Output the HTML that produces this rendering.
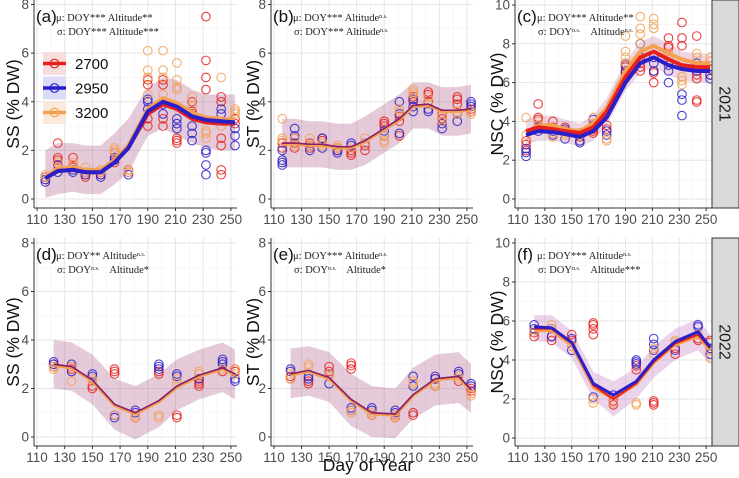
<!DOCTYPE html>
<html><head><meta charset="utf-8"><style>
html,body{margin:0;padding:0;background:#fff;}
svg{display:block;font-family:"Liberation Sans",sans-serif;}
.tk{font-size:13.5px;fill:#4d4d4d;}
.ser{font-family:"Liberation Serif",serif;font-size:10.5px;fill:#222;}
</style></head><body>
<svg id="chart" width="739" height="478" xmlns="http://www.w3.org/2000/svg"></svg>
<script>
// ---------- data ----------
const days2021 = [116,125,136,145,156,166,176,190,201,211,222,232,243,253];
const days2022 = [122,135,150,166,181,198,211,227,244,253];
const altitudes = ["2700","2950","3200"];
const xTicks = [110,130,150,170,190,210,230,250];
const ssTicks = [0,2,4,6,8];
const nscTicks = [0,2,4,6,8,10];

// panel a SS 2021
const aLine2700 = [0.85,1.15,1.2,1.1,1.1,1.5,2.1,3.5,3.9,3.7,3.3,3.15,3.1,3.1];
const aLine2950 = [0.85,1.15,1.2,1.1,1.1,1.5,2.1,3.6,4.0,3.8,3.4,3.25,3.2,3.15];
const aLine3200 = [0.9,1.25,1.3,1.2,1.2,1.6,2.2,3.7,4.15,3.95,3.55,3.35,3.3,3.25];
const aLow = [0.05,0.2,0.3,0.2,0.2,0.6,1.1,2.6,2.9,2.6,2.3,2.1,2.0,2.0];
const aHigh = [2.0,2.3,2.3,2.2,2.2,2.7,3.3,4.6,5.0,4.9,4.5,4.3,4.3,4.3];
const aPts2700 = [[0.8,0.9],[2.3,1.7,1.6,1.4],[1.7,1.4,1.3],[0.9,1.0],[1.0,1.1],[1.5,1.9],[1.2,1.1],[3.0,3.3,4.7,4.9],[3.0,3.3,4.7,4.9],[2.3,2.4,2.5],[3.6,4.0,3.5],[7.5,5.7,5.0,4.5],[1.0,1.2,2.2,2.5,4.2,4.0],[3.1,3.3]];
const aPts2950 = [[0.7,0.8,0.9],[1.1,1.4],[1.1,1.2],[1.0,1.1],[0.9,1.0],[1.6,1.7],[1.0],[3.7,4.0,4.1],[3.5,3.9],[2.9,3.1,3.3],[2.4,2.7,3.0],[1.0,1.4,1.9,2.0],[3.5,3.7],[2.2,2.6,2.9]];
const aPts3200 = [[0.9,1.0],[1.5,1.3],[1.4,1.5],[1.3,1.1],[1.2,1.1],[2.1,2.0,1.9],[1.2,1.1],[6.1,5.3,5.0,4.3],[6.1,5.3,5.0,4.3],[5.6,4.9,4.6,4.5],[4.2,3.8],[2.5,2.7,2.8],[5.0,3.0],[3.7,3.6,3.5]];

// panel b ST 2021
const bLine2700 = [2.3,2.3,2.25,2.25,2.15,2.15,2.4,2.9,3.3,3.85,3.9,3.65,3.65,3.7];
const bLine2950 = [2.3,2.3,2.25,2.25,2.15,2.15,2.4,2.9,3.3,3.85,3.9,3.65,3.65,3.7];
const bLine3200 = [2.25,2.25,2.2,2.2,2.1,2.1,2.35,2.85,3.25,3.8,3.85,3.6,3.6,3.65];
const bLow = [1.3,1.3,1.3,1.3,1.2,1.2,1.4,1.9,2.3,2.9,2.9,2.6,2.6,2.7];
const bHigh = [3.3,3.3,3.2,3.2,3.1,3.1,3.4,3.9,4.3,4.8,4.8,4.6,4.6,4.7];
const bPts2700 = [[2.1,2.3],[2.1,2.3,2.5],[2.1,2.3],[2.4,2.5],[2.0,2.1],[1.8,1.9,2.0],[2.0,2.2],[3.0,3.2,3.1],[2.6,3.4,3.2],[4.0,4.2],[4.4,4.3,4.0],[3.3,3.5],[4.2,4.1,3.9],[3.6,3.7]];
const bPts2950 = [[1.4,1.5,1.6,2.0],[2.9,2.6],[2.0,2.2],[2.1,2.5],[1.9,2.0],[2.2,2.3],[2.3],[2.6,2.8],[2.7,4.0,3.5],[3.6,3.8,4.1],[3.6,3.7],[2.9,3.1],[3.2,3.5],[4.0,3.9,3.8]];
const bPts3200 = [[3.3,2.5,2.4],[2.2,2.5],[2.5,2.2],[2.2,2.3],[2.1,2.2],[2.1],[2.5,2.3],[2.3,2.4,2.6],[3.6,3.7],[4.4,4.3,4.5],[4.2,3.9],[3.2,3.4],[3.6,3.5],[3.5,3.6]];

// panel c NSC 2021
const cLine2700 = [3.5,3.7,3.6,3.5,3.4,3.7,4.5,6.3,7.3,7.6,7.2,6.9,6.8,6.8];
const cLine2950 = [3.3,3.5,3.45,3.35,3.2,3.5,4.2,6.0,7.0,7.3,6.9,6.7,6.6,6.6];
const cLine3200 = [3.4,3.8,3.8,3.6,3.5,3.9,4.7,6.6,7.6,7.9,7.5,7.2,7.0,7.0];
const cLow = [2.8,3.0,3.0,2.9,2.7,3.0,3.8,5.6,6.5,6.8,6.4,6.1,6.0,6.0];
const cHigh = [4.1,4.3,4.3,4.1,3.9,4.3,5.2,7.1,8.1,8.4,8.0,7.6,7.5,7.5];
const cPts2700 = [[2.5,2.8,3.0],[4.9,4.2,4.1],[4.0,3.7],[3.7,3.5],[3.4,3.2],[3.4,3.5,3.6],[3.8,3.6],[6.5,6.8,7.0],[6.6,7.0,6.8],[6.0,6.5,6.6],[8.3,7.9,7.8],[9.1,8.3,7.9],[5.0,5.1,6.2,6.4,8.4],[6.4,6.7]];
const cPts2950 = [[2.2,2.4,2.6],[3.5,3.7],[3.3,3.5],[3.1,3.6],[2.9,3.0],[3.8,4.1],[3.3,3.5],[6.3,6.6,6.9],[8.0,7.3],[6.6,7.0,7.3],[6.0,6.6,6.9],[4.3,5.1,5.4],[6.6,7.0],[6.2,6.4]];
const cPts3200 = [[4.2,3.3],[3.8,4.0],[3.2,3.4],[3.3,3.4],[3.3,3.4],[4.2,3.9],[3.1,3.0],[8.4,7.6,7.3,7.0],[9.4,8.8,8.5,8.0],[9.3,9.0,8.8],[7.5,7.2],[6.3,6.1,5.9],[7.5,7.3],[7.3,7.1]];

// panel d SS 2022
const dLine2700 = [3.0,2.9,2.35,1.35,1.0,1.5,2.1,2.55,2.85,2.6];
const dLine2950 = [3.0,2.9,2.35,1.35,1.0,1.5,2.1,2.55,2.85,2.6];
const dLine3200 = [2.95,2.85,2.3,1.3,0.95,1.45,2.05,2.5,2.8,2.55];
const dLow = [2.0,1.9,1.35,0.3,-0.1,0.4,1.1,1.55,1.85,1.55];
const dHigh = [4.0,3.9,3.4,2.4,2.1,2.6,3.2,3.6,3.9,3.6];
const dPts2700 = [[2.9,3.0],[2.8,2.9],[2.0,2.1],[2.8,2.7,2.6],[0.8],[2.6,2.7],[0.8,0.9],[2.1,2.2,2.3],[2.7],[2.7,2.8]];
const dPts2950 = [[3.1,3.0],[3.0,2.7],[2.6,2.5],[0.8,0.9],[1.0,1.1],[2.8,2.9,3.0],[2.5,2.6],[2.4],[3.0,3.1,3.2],[2.3,2.4]];
const dPts3200 = [[2.8,2.9],[2.3,2.9],[2.4,2.3],[0.9],[0.8,0.9],[0.9,0.8],[2.2,2.4],[2.6,2.7],[2.8],[2.6,2.8]];

// panel e ST 2022
const eLine2700 = [2.6,2.75,2.45,1.55,1.0,0.95,1.75,2.4,2.5,1.95];
const eLine2950 = [2.6,2.75,2.45,1.55,1.0,0.95,1.75,2.4,2.5,1.95];
const eLine3200 = [2.55,2.7,2.4,1.5,0.95,0.9,1.7,2.35,2.45,1.9];
const eLow = [1.6,1.7,1.45,0.45,0.0,-0.05,0.75,1.3,1.4,1.0];
const eHigh = [3.65,3.75,3.5,2.6,2.1,2.0,2.85,3.4,3.5,3.0];
const ePts2700 = [[2.4,2.5],[2.2,2.3],[2.7,2.9],[2.8,2.95,3.05],[0.9],[0.9,0.8],[0.9,1.0],[2.1,2.4],[2.3],[1.9,2.0]];
const ePts2950 = [[2.7,2.8],[2.4,2.5],[2.2,2.6],[1.2,1.1],[1.2,1.1],[1.1,1.0],[2.1,2.5],[2.4,2.5],[2.7,2.6],[2.2,2.1]];
const ePts3200 = [[2.4,2.6],[2.9,3.0],[2.5,2.6],[1.0,1.1],[0.9,1.0],[0.8,0.9],[2.3,2.2],[2.1,2.2],[2.4,2.5],[1.7,1.8]];

// panel f NSC 2022
const fLine2700 = [5.6,5.6,4.85,2.7,2.0,2.8,3.9,4.85,5.3,4.6];
const fLine2950 = [5.7,5.65,4.9,2.8,2.2,2.9,4.0,4.95,5.45,4.65];
const fLine3200 = [5.5,5.5,4.75,2.6,2.0,2.75,3.85,4.8,5.2,4.5];
const fLow = [5.0,4.9,4.1,2.0,1.1,2.0,3.1,4.0,4.5,3.8];
const fHigh = [6.3,6.3,5.5,3.4,2.9,3.6,4.7,5.6,6.1,5.3];
const fPts2700 = [[5.2,5.4],[5.0,5.2],[5.3,5.0],[5.3,5.6,5.8,5.9],[1.7,1.9],[3.5,3.7],[1.7,1.8,1.9],[4.3,4.6],[5.0,5.1],[4.9,5.0]];
const fPts2950 = [[5.8,5.6],[5.2,5.6],[4.5,5.1],[2.1],[2.2],[3.9,4.0,3.8],[4.5,5.1,4.8],[4.5],[5.7,5.8],[4.3,4.6]];
const fPts3200 = [[5.5],[5.8,5.6],[4.7],[1.8,2.0],[1.8],[1.8,1.7],[4.3,4.6],[5.0,4.9],[5.3],[4.1,4.5]];

// ---------- drawing ----------
const NS="http://www.w3.org/2000/svg";
const svg=document.getElementById('chart');
const COL={"2700":"#e8201c","2950":"#2a1fc9","3200":"#f4a052"};
function mk(tag,attrs,parent){const e=document.createElementNS(NS,tag);for(const k in attrs)e.setAttribute(k,attrs[k]);(parent||svg).appendChild(e);return e;}

const panels=[
 {id:"a",L:34,W:203,T:0,B:208,ymax:8,y0:199,yTop:4.5,ticks:ssTicks,days:days2021,lines:[aLine2700,aLine2950,aLine3200],low:aLow,high:aHigh,pts:[aPts2700,aPts2950,aPts3200],lw:[4,4,4],band:"rgba(160,70,120,0.28)",title:"SS (% DW)",tx:13,mu:["DOY","***","Altitude","**"],sg:["DOY","***","Altitude","***"]},
 {id:"b",L:271,W:202,T:0,B:208,ymax:8,y0:199,yTop:4.5,ticks:ssTicks,days:days2021,lines:[bLine2700,bLine2950,bLine3200],low:bLow,high:bHigh,pts:[bPts2700,bPts2950,bPts3200],lw:[1.5,1.5,3],band:"rgba(160,70,120,0.28)",title:"ST (% DW)",tx:253,mu:["DOY","***","Altitude","ns"],sg:["DOY","***","Altitude","ns"]},
 {id:"c",L:515,W:197,T:0,B:208,ymax:10,y0:199,yTop:5,ticks:nscTicks,days:days2021,lines:[cLine2700,cLine2950,cLine3200],low:cLow,high:cHigh,pts:[cPts2700,cPts2950,cPts3200],lw:[4,4,4],band:"rgba(200,120,170,0.3)",title:"NSC (% DW)",tx:497,mu:["DOY","***","Altitude","**"],sg:["DOY","ns","Altitude","ns"],strip:"2021"},
 {id:"d",L:34,W:203,T:238,B:446,ymax:8,y0:437,yTop:243,ticks:ssTicks,days:days2022,lines:[dLine2700,dLine2950,dLine3200],low:dLow,high:dHigh,pts:[dPts2700,dPts2950,dPts3200],lw:[1.5,1.5,3],band:"rgba(160,70,120,0.28)",title:"SS (% DW)",tx:13,mu:["DOY","**","Altitude","ns"],sg:["DOY","ns","Altitude","*"]},
 {id:"e",L:271,W:202,T:238,B:446,ymax:8,y0:437,yTop:243,ticks:ssTicks,days:days2022,lines:[eLine2700,eLine2950,eLine3200],low:eLow,high:eHigh,pts:[ePts2700,ePts2950,ePts3200],lw:[1.5,1.5,3],band:"rgba(160,70,120,0.28)",title:"ST (% DW)",tx:253,mu:["DOY","***","Altitude","ns"],sg:["DOY","ns","Altitude","*"]},
 {id:"f",L:515,W:197,T:238,B:446,ymax:10,y0:438,yTop:243,ticks:nscTicks,days:days2022,lines:[fLine2700,fLine2950,fLine3200],low:fLow,high:fHigh,pts:[fPts2700,fPts2950,fPts3200],lw:[2,3,3],band:"rgba(190,110,190,0.3)",title:"NSC (% DW)",tx:497,mu:["DOY","***","Altitude","ns"],sg:["DOY","ns","Altitude","***"],strip:"2022"}
];

function annot(parent,x,y,sym,parts,name){
 const t=mk('text',{x:x,y:y,class:"ser"},parent);
 
 
 const add=(txt,small,dx)=>{const s=mk('tspan',small?{"font-size":"6","baseline-shift":"super"}:{},t);if(dx)s.setAttribute('dx',dx);s.textContent=txt;};
 add(sym+": "+parts[0]);
 if(parts[1]==="ns"){add("n.s.",true);add(" ",false,"8");} else add(parts[1]+" ");
 add(parts[2]);
 if(parts[3]==="ns")add("n.s.",true); else add(parts[3]);
}

panels.forEach(p=>{
 const g=mk('g',{});
 
 
 const x0=p.L+3, xs=(p.W*0.955)/140;
 const X=v=>x0+(v-110)*xs;
 const Y=v=>p.y0-(v/p.ymax)*(p.y0-p.yTop);
 const R=p.L+p.W;
 for(let v=120;v<=250;v+=20){if(X(v)<R)mk('line',{x1:X(v),x2:X(v),y1:p.T,y2:p.B,stroke:"#f2f2f2","stroke-width":0.6},g);}
 for(let i=0;i<p.ticks.length-1;i++){const v=(p.ticks[i]+p.ticks[i+1])/2;mk('line',{x1:p.L,x2:R,y1:Y(v),y2:Y(v),stroke:"#f2f2f2","stroke-width":0.6},g);}
 xTicks.forEach(v=>mk('line',{x1:X(v),x2:X(v),y1:p.T,y2:p.B,stroke:"#e6e6e6","stroke-width":1},g));
 p.ticks.forEach(v=>mk('line',{x1:p.L,x2:R,y1:Y(v),y2:Y(v),stroke:"#e6e6e6","stroke-width":1},g));
 let d="";p.days.forEach((dd,i)=>d+=(i?"L":"M")+X(dd)+","+Y(p.high[i]));
 for(let i=p.days.length-1;i>=0;i--)d+="L"+X(p.days[i])+","+Y(p.low[i]);
 const band=mk('path',{d:d+"Z",fill:p.band},g);
 
 
 p.pts.forEach((arr,k)=>{arr.forEach((vals,i)=>{vals.forEach(v=>{
   const c=mk('circle',{cx:X(p.days[i]),cy:Y(v),r:4.3,fill:"none",stroke:COL[altitudes[k]],"stroke-width":1.1,"stroke-opacity":0.85},g);
   
   
 });});});
 const order=[2,0,1];
 order.forEach(k=>{
   const arr=p.lines[k];let s="";
   p.days.forEach((dd,i)=>s+=(i?"L":"M")+X(dd)+","+Y(arr[i]));
   const col=(p.lw[k]<2)?"#8a1f6a":COL[altitudes[k]];
   const l=mk('path',{d:s,fill:"none",stroke:col,"stroke-width":p.lw[k],"stroke-linejoin":"round"},g);
   
   
 });
 mk('line',{x1:p.L,x2:p.L,y1:p.T,y2:p.B,stroke:"#333","stroke-width":1},g);
 mk('line',{x1:p.L,x2:R,y1:p.B,y2:p.B,stroke:"#333","stroke-width":1},g);
 if(p.strip) mk('line',{x1:R,x2:R,y1:p.T,y2:p.B,stroke:"#333","stroke-width":1},g);
 xTicks.forEach(v=>{mk('line',{x1:X(v),x2:X(v),y1:p.B,y2:p.B+3,stroke:"#333"},g);
   const t=mk('text',{x:X(v),y:p.B+16,"text-anchor":"middle",class:"tk"},g);t.textContent=v;
   });
 p.ticks.forEach(v=>{mk('line',{x1:p.L-3,x2:p.L,y1:Y(v),y2:Y(v),stroke:"#333"},g);
   const t=mk('text',{x:p.L-5,y:Y(v)+4.5,"text-anchor":"end",class:"tk"},g);t.textContent=v;
   });
 const yt=mk('text',{x:p.tx,y:(p.T+p.B)/2,"text-anchor":"middle","font-size":"17.5",fill:"#111",transform:`rotate(-90 ${p.tx} ${(p.T+p.B)/2})`,dy:"6"},g);
 yt.textContent=p.title;
 
 const lab=mk('text',{x:p.L+2,y:p.T+22,"font-size":"17",fill:"#111"},g);lab.textContent="("+p.id+")";
 
 annot(g,p.L+22,p.T+21,"\u03BC",p.mu,'mu-annotation');
 annot(g,p.L+23,p.T+35,"\u03C3",p.sg,'sigma-annotation');
 if(p.strip){
   const st=mk('rect',{x:R,y:p.T,width:739-R,height:p.B-p.T,fill:"#d9d9d9",stroke:"#333","stroke-width":1},g);
   
   const cx=(R+739)/2,cy=(p.T+p.B)/2;
   const tt=mk('text',{x:cx,y:cy,"text-anchor":"middle","font-size":"16",fill:"#1a1a1a",dy:"6",transform:`rotate(90 ${cx} ${cy})`},g);tt.textContent=p.strip;
   
 }
});

const legBg={"2700":"#f7dede","2950":"#dcdcf7","3200":"#fbeadb"};
altitudes.forEach((a,i)=>{
 const y=52+i*24.5;
 const lg=mk('g',{});
 
 
 mk('rect',{x:43,y:y,width:23,height:23,fill:legBg[a]},lg);
 mk('line',{x1:43,x2:66,y1:y+11.5,y2:y+11.5,stroke:COL[a],"stroke-width":3.5},lg);
 mk('circle',{cx:54.5,cy:y+11.5,r:4.3,fill:"none",stroke:COL[a],"stroke-width":1.2},lg);
 const t=mk('text',{x:75,y:y+17,"font-size":"15",fill:"#111"},lg);t.textContent=a;
});
const xt=mk('text',{x:368,y:471,"text-anchor":"middle","font-size":"17.5",fill:"#111"});
xt.textContent="Day of Year";


</script>
</body></html>
